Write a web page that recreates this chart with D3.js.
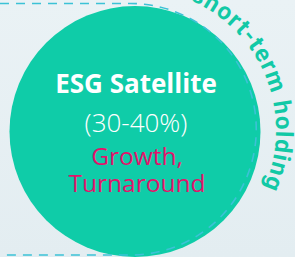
<!DOCTYPE html>
<meta charset="utf-8">
<head>
  <title>ESG Satellite</title>
</head>
<style>
  body { margin: 0; }
  svg { display: block; }
</style>
<body>
  <svg width="295" height="257"></svg>
  <script src="https://cdn.jsdelivr.net/npm/d3@7"></script>
  <script>
// chart content
var title = "ESG Satellite";
var shareRange = [30, 40];            // percent of portfolio
var roles = ["Growth,", "Turnaround"];
var arcLabel = "short-term holding";

var W = 295, H = 257;
var svg = d3.select("svg");

// background gradient
var defs = svg.append("defs");
var grad = defs.append("linearGradient").attr("id", "bg")
    .attr("x1", 0).attr("y1", 0).attr("x2", 0).attr("y2", 1);
grad.append("stop").attr("offset", "0%").attr("stop-color", "#eaf2f5");
grad.append("stop").attr("offset", "100%").attr("stop-color", "#e3edf1");
svg.append("rect").attr("width", W).attr("height", H).attr("fill", "url(#bg)");

// circle geometry
var cx = 135, cy = 131.5, r = 125.5;

// dashed outline: straight top/bottom joined by the right half circle
var dcx = 130.5, dcy = 129.25, dr = 125.75;
var dash = d3.path();
dash.moveTo(0, dcy - dr);
dash.lineTo(dcx, dcy - dr);
dash.arc(dcx, dcy, dr, -Math.PI / 2, Math.PI / 2, false);
dash.lineTo(0, dcy + dr);

svg.append("circle")
    .attr("cx", cx).attr("cy", cy).attr("r", r)
    .attr("fill", "#0fcca8");

svg.append("path")
    .attr("d", dash.toString())
    .attr("fill", "none")
    .attr("stroke", "#3cc2d6")
    .attr("stroke-width", 1.6)
    .attr("stroke-dasharray", "9,7");

// text along the arc, angle measured clockwise from 12 o'clock
var angle = d3.scaleLinear().domain([0, 360]).range([0, 2 * Math.PI]);
var tcx = 135, tcy = 130, tr = 141;
var a0 = angle(-20), a1 = angle(200);
var tp = d3.path();
tp.arc(tcx, tcy, tr, a0 - Math.PI / 2, a1 - Math.PI / 2, false);
defs.append("path").attr("id", "arcPath").attr("d", tp.toString());

svg.append("text")
    .attr("font-family", "Roboto, sans-serif")
    .attr("font-weight", 700)
    .attr("font-size", 24)
    .attr("letter-spacing", 1.2)
    .attr("fill", "#12c9a6")
  .append("textPath")
    .attr("href", "#arcPath")
    .attr("startOffset", tr * (angle(23) - a0))
    .text(arcLabel);

// centre labels
var g = svg.append("g").attr("text-anchor", "middle").attr("font-family", "'Open Sans', sans-serif");

g.append("text")
    .attr("x", cx + 1).attr("y", 93)
    .attr("font-size", 26).attr("font-weight", 700)
    .attr("fill", "#ffffff")
    .text(title);

g.append("text")
    .attr("x", cx + 1).attr("y", 132)
    .attr("font-size", 26).attr("font-weight", 300)
    .attr("fill", "#ffffff")
    .text("(" + shareRange[0] + "-" + shareRange[1] + "%)");

g.selectAll(".role")
  .data(roles)
  .enter().append("text")
    .attr("class", "role")
    .attr("x", cx + 2)
    .attr("y", function(d, i) { return 165 + i * 27; })
    .attr("font-size", 24.5)
    .attr("fill", "#e3136b")
    .text(function(d) { return d; });
  </script>
</body>
</html>
